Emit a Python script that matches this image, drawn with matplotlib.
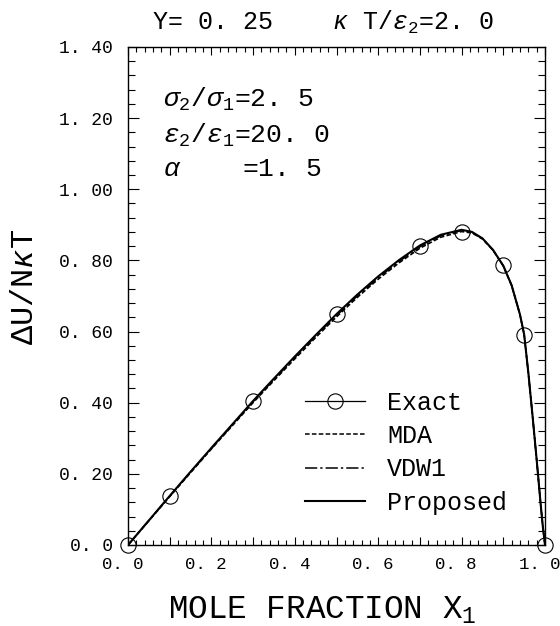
import matplotlib
matplotlib.use('Agg')
import matplotlib.pyplot as plt
import matplotlib.transforms as mtransforms
from matplotlib.ticker import FixedLocator, FixedFormatter, MultipleLocator
from matplotlib.lines import Line2D

plt.rcParams['font.family'] = ['Liberation Mono', 'DejaVu Sans']
plt.rcParams['mathtext.fontset'] = 'custom'
plt.rcParams['mathtext.rm'] = 'Liberation Mono'
plt.rcParams['mathtext.it'] = 'Liberation Mono:italic'
plt.rcParams['mathtext.bf'] = 'Liberation Mono:bold'

# exact (simulation) points
x_exact = [0.0, 0.1, 0.3, 0.5, 0.7, 0.8, 0.9, 0.95, 1.0]
u_exact = [0.0, 0.138, 0.405, 0.649, 0.841, 0.879, 0.787, 0.591, 0.0]

# theory curves
x_curve = [0.0, 0.05, 0.1, 0.15, 0.2, 0.25, 0.3, 0.35, 0.4, 0.45, 0.5, 0.55,
           0.6, 0.65, 0.7, 0.75, 0.8, 0.825, 0.85, 0.875, 0.9, 0.92, 0.94,
           0.95, 0.96, 0.97, 0.98, 0.99, 0.995, 1.0]
u_proposed = [0.0, 0.069, 0.138, 0.206, 0.273, 0.339, 0.405, 0.468, 0.530, 0.590,
              0.649, 0.704, 0.755, 0.801, 0.842, 0.872, 0.886, 0.880, 0.862, 0.830,
              0.785, 0.730, 0.648, 0.592, 0.485, 0.365, 0.240, 0.110, 0.050, 0.0]
u_mda = [0.0, 0.068, 0.136, 0.203, 0.270, 0.335, 0.400, 0.462, 0.523, 0.583,
         0.641, 0.696, 0.747, 0.793, 0.834, 0.865, 0.881, 0.877, 0.860, 0.829,
         0.784, 0.729, 0.647, 0.591, 0.484, 0.364, 0.239, 0.109, 0.049, 0.0]
u_vdw1 = [0.0, 0.069, 0.137, 0.205, 0.271, 0.337, 0.403, 0.465, 0.527, 0.587,
          0.645, 0.700, 0.751, 0.797, 0.838, 0.869, 0.884, 0.879, 0.861, 0.830,
          0.785, 0.730, 0.648, 0.592, 0.485, 0.365, 0.240, 0.110, 0.050, 0.0]

x_ticks = [0.0, 0.1, 0.2, 0.3, 0.4, 0.5, 0.6, 0.7, 0.8, 0.9, 1.0]
x_ticklabels = ['0. 0', '', '0. 2', '', '0. 4', '', '0. 6', '', '0. 8', '', '1. 0']
y_ticks = [0.0, 0.2, 0.4, 0.6, 0.8, 1.0, 1.2, 1.4]
y_ticklabels = ['0. 0', '0. 20', '0. 40', '0. 60', '0. 80', '1. 00', '1. 20', '1. 40']

mda_style = (0, (3, 1.5))
vdw_style = (0, (8, 2, 1.5, 2))

fig = plt.figure(figsize=(5.6, 6.26), dpi=100)
ax = fig.add_axes([0.2286, 0.1294, 0.7446, 0.7956])

ax.plot(x_curve, u_mda, color='black', linewidth=1.1, linestyle=mda_style)
ax.plot(x_curve, u_vdw1, color='black', linewidth=1.1, linestyle=vdw_style)
ax.plot(x_curve, u_proposed, color='black', linewidth=1.5)
ax.plot(x_exact, u_exact, linestyle='none', marker='o', markersize=11,
        markerfacecolor='none', markeredgecolor='black', markeredgewidth=0.8,
        clip_on=False, zorder=5)

ax.set_xlim(0, 1.0)
ax.set_ylim(0, 1.4)
ax.xaxis.set_major_locator(FixedLocator(x_ticks))
ax.xaxis.set_major_formatter(FixedFormatter(x_ticklabels))
ax.xaxis.set_minor_locator(MultipleLocator(0.02))
ax.yaxis.set_major_locator(FixedLocator(y_ticks))
ax.yaxis.set_major_formatter(FixedFormatter(y_ticklabels))
ax.yaxis.set_minor_locator(MultipleLocator(0.04))

ax.tick_params(which='both', direction='in', top=True, right=True, width=0.8)
ax.tick_params(axis='x', which='major', length=6, pad=9, labelsize=12.5)
ax.tick_params(axis='x', which='minor', length=3.5)
ax.tick_params(axis='y', which='major', length=8, pad=11, labelsize=13)
ax.tick_params(axis='y', which='minor', length=5)
for sp in ax.spines.values():
    sp.set_linewidth(1.0)

# x tick labels sit a little left of their ticks in the original
shift = mtransforms.ScaledTranslation(-4 / 72, 0, fig.dpi_scale_trans)
for lbl in ax.get_xticklabels():
    lbl.set_transform(lbl.get_transform() + shift)

ax.set_xlabel(r'MOLE FRACTION X$_1$', fontsize=23.5, va='top')
ax.xaxis.set_label_coords(0.466, -0.10)
ax.set_ylabel(r'$\Delta$U/N$\kappa$T', fontsize=23, va='center', ha='center')
ax.yaxis.set_label_coords(-0.247, 0.518)

fig.text(0.271, 0.965, r'Y= 0. 25    $\kappa$ T/$\epsilon_2$=2. 0',
         ha='left', va='center', fontsize=18)

ax.text(0.084, 0.894, r'$\sigma_2$/$\sigma_1$=2. 5', transform=ax.transAxes,
        fontsize=19, va='center', ha='left')
ax.text(0.084, 0.823, r'$\epsilon_2$/$\epsilon_1$=20. 0', transform=ax.transAxes,
        fontsize=19, va='center', ha='left')
ax.text(0.084, 0.755, r'$\alpha$    =1. 5', transform=ax.transAxes,
        fontsize=19, va='center', ha='left')

handles = [
    Line2D([], [], color='black', linewidth=0.9, marker='o', markersize=11,
           markerfacecolor='none', markeredgewidth=0.8),
    Line2D([], [], color='black', linewidth=1.1, linestyle=mda_style),
    Line2D([], [], color='black', linewidth=1.1, linestyle=vdw_style),
    Line2D([], [], color='black', linewidth=1.5),
]
ax.legend(handles, ['Exact', 'MDA', 'VDW1', 'Proposed'], loc='upper left',
          bbox_to_anchor=(0.4245, 0.3096), frameon=False, fontsize=18,
          handlelength=2.4, handletextpad=0.88, labelspacing=0.37,
          borderpad=0, borderaxespad=0)

fig.savefig('out.png', dpi=100)
